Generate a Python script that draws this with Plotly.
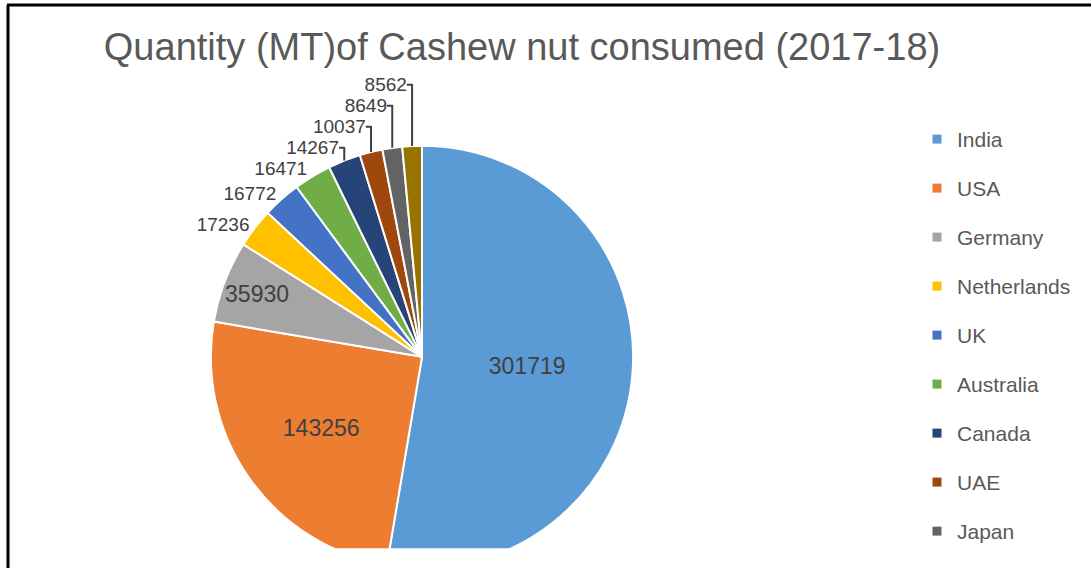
import plotly.graph_objects as go

W, H = 1091, 573

countries = ["India", "USA", "Germany", "Netherlands", "UK", "Australia",
             "Canada", "UAE", "Japan", "Others"]
quantity_mt = [301719, 143256, 35930, 17236, 16772, 16471, 14267, 10037, 8649, 8562]
slice_colors = ["#5B9BD5", "#ED7D31", "#A5A5A5", "#FFC000", "#4472C4", "#70AD47",
                "#264478", "#9E480E", "#636363", "#997300"]
label_positions = ["inside", "inside", "inside"] + ["outside"] * 7
legend_countries = countries[:9]

TEXT = "#404040"
FONT = "Liberation Sans, Arial, sans-serif"

fig = go.Figure()

fig.add_trace(go.Pie(
    labels=countries,
    values=quantity_mt,
    sort=False,
    direction="clockwise",
    rotation=0,
    marker=dict(colors=slice_colors, line=dict(color="white", width=2)),
    textinfo="value",
    texttemplate="%{value:.0f}",
    textposition=label_positions,
    insidetextorientation="horizontal",
    insidetextfont=dict(family=FONT, size=23, color=TEXT),
    outsidetextfont=dict(family=FONT, size=19, color=TEXT),
    showlegend=False,
    domain=dict(x=[209 / W, 635 / W], y=[0, 1 - 147 / H]),
    hoverinfo="label+value+percent",
))

# legend entries (native legend, one group per country for spacing)
for name, col in zip(legend_countries, slice_colors):
    fig.add_trace(go.Scatter(
        x=[None], y=[None], mode="markers", name=name,
        legendgroup=name,
        marker=dict(symbol="square", size=9, color=col),
        hoverinfo="skip",
    ))

shapes = [
    # emulate the cropped bottom of the chart area
    dict(type="rect", xref="paper", yref="paper", x0=10 / W, x1=900 / W,
         y0=0, y1=20 / H, fillcolor="white", line=dict(width=0), layer="above"),
    # frame lines
    dict(type="line", xref="paper", yref="paper", x0=7 / W, x1=1, y0=1 - 5 / H, y1=1 - 5 / H,
         line=dict(color="black", width=3), layer="above"),
    dict(type="line", xref="paper", yref="paper", x0=8 / W, x1=8 / W, y0=0, y1=1 - 5 / H,
         line=dict(color="black", width=3), layer="above"),
]

fig.update_layout(
    width=W, height=H,
    margin=dict(l=0, r=0, t=0, b=0),
    paper_bgcolor="white", plot_bgcolor="white",
    xaxis=dict(visible=False), yaxis=dict(visible=False),
    title=dict(text="Quantity (MT)of Cashew nut consumed (2017-18)",
               font=dict(family=FONT, size=38, color="#595959"),
               x=522 / W, xanchor="center", xref="paper",
               y=1 - 47 / H, yanchor="middle", yref="container"),
    legend=dict(x=917 / W, xanchor="left", y=1 - 120 / H, yanchor="top",
                font=dict(family=FONT, size=21, color="#595959"),
                tracegroupgap=18.7, bgcolor="rgba(0,0,0,0)"),
    shapes=shapes,
)

fig.write_html("out.html")
